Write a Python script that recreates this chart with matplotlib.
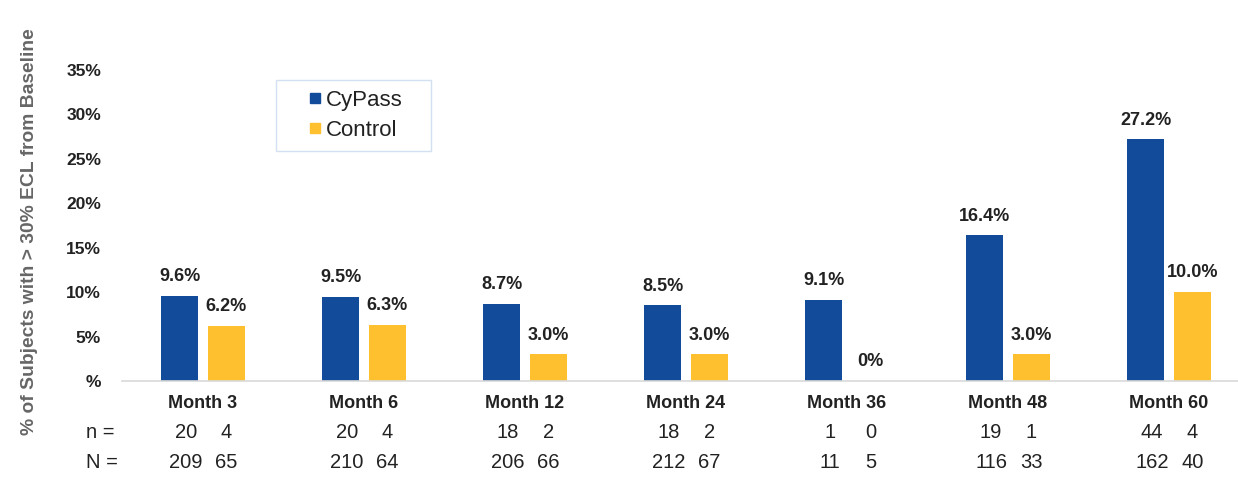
import matplotlib
matplotlib.use("Agg")
import matplotlib.pyplot as plt
import matplotlib.transforms as mtransforms
from matplotlib.lines import Line2D
import numpy as np

plt.rcParams['font.family'] = ['Liberation Sans', 'DejaVu Sans']

categories = ["Month 3", "Month 6", "Month 12", "Month 24", "Month 36", "Month 48", "Month 60"]
cypass = [9.6, 9.5, 8.7, 8.5, 9.1, 16.4, 27.2]
control = [6.2, 6.3, 3.0, 3.0, 0.0, 3.0, 10.0]
cypass_labels = ["9.6%", "9.5%", "8.7%", "8.5%", "9.1%", "16.4%", "27.2%"]
control_labels = ["6.2%", "6.3%", "3.0%", "3.0%", "0%", "3.0%", "10.0%"]
n_cypass = [20, 20, 18, 18, 1, 19, 44]
n_control = [4, 4, 2, 2, 0, 1, 4]
N_cypass = [209, 210, 206, 212, 11, 116, 162]
N_control = [65, 64, 66, 67, 5, 33, 40]
yticks = [0, 5, 10, 15, 20, 25, 30, 35]
ytick_labels = ["%", "5%", "10%", "15%", "20%", "25%", "30%", "35%"]

blue = "#134B9B"
yellow = "#FFC02F"
txt = "#222222"

W, H = 1238, 490
fig = plt.figure(figsize=(W / 100, H / 100), dpi=100)
ax = fig.add_axes([122 / W, (H - 381) / H, (W - 122) / W, (381 - 70) / H])

x = np.arange(len(categories))
off = 0.145
bw = 0.23
ax.bar(x - off, cypass, bw, color=blue, label="CyPass", zorder=2)
ax.bar(x + off, control, bw, color=yellow, label="Control", zorder=2)

for i in range(len(categories)):
    ax.text(x[i] - off, cypass[i] + 1.2, cypass_labels[i], ha="center", va="bottom",
            fontsize=13, fontweight="bold", color=txt)
    ax.text(x[i] + off, control[i] + 1.2, control_labels[i], ha="center", va="bottom",
            fontsize=13, fontweight="bold", color=txt)

ax.set_xlim(-81 / 161, (W - 203) / 161)
ax.set_ylim(0, 35)
ax.set_yticks(yticks)
ax.set_yticklabels(ytick_labels, fontsize=12.5, fontweight="bold", color=txt)
ax.set_xticks(x)
ax.set_xticklabels(categories, fontsize=13, fontweight="bold", color=txt)
ax.tick_params(axis="y", length=0, pad=15)
ax.tick_params(axis="x", length=0, pad=10)
for s in ["top", "right", "left"]:
    ax.spines[s].set_visible(False)
ax.spines["bottom"].set_color("#D9D9D9")
ax.spines["bottom"].set_linewidth(1.2)

trans = mtransforms.blended_transform_factory(ax.transData, fig.transFigure)
yn = (H - 432) / H
yN = (H - 462) / H
fig.text(86 / W, yn, "n =", fontsize=14.5, color=txt, va="center", ha="left")
fig.text(86 / W, yN, "N =", fontsize=14.5, color=txt, va="center", ha="left")
for i in range(len(categories)):
    ax.text(x[i] - off + 0.04, yn, str(n_cypass[i]), transform=trans, ha="center", va="center",
            fontsize=14.5, color=txt)
    ax.text(x[i] + off, yn, str(n_control[i]), transform=trans, ha="center", va="center",
            fontsize=14.5, color=txt)
    ax.text(x[i] - off + 0.04, yN, str(N_cypass[i]), transform=trans, ha="center", va="center",
            fontsize=14.5, color=txt)
    ax.text(x[i] + off, yN, str(N_control[i]), transform=trans, ha="center", va="center",
            fontsize=14.5, color=txt)

fig.text(30 / W, (H - 232) / H, "% of Subjects with > 30% ECL from Baseline", rotation=90,
         fontsize=13.9, fontweight="bold", color="#666666", ha="center", va="center")

handles = [Line2D([0], [0], marker="s", linestyle="none", markersize=7.5, color=blue),
           Line2D([0], [0], marker="s", linestyle="none", markersize=7.5, color=yellow)]
leg = fig.legend(handles, ["CyPass", "Control"], loc="upper left", mode="expand",
                 bbox_to_anchor=(276 / W, (H - 152) / H, 155 / W, 72 / H),
                 frameon=True, fancybox=False,
                 fontsize=16, handletextpad=-0.8, borderpad=0.45, labelspacing=0.4,
                 handlelength=2.6, borderaxespad=0)
leg.get_frame().set_edgecolor("#C9D9EE")
leg.get_frame().set_linewidth(1.0)
for t in leg.get_texts():
    t.set_color(txt)

fig.savefig("out.png", dpi=100)
